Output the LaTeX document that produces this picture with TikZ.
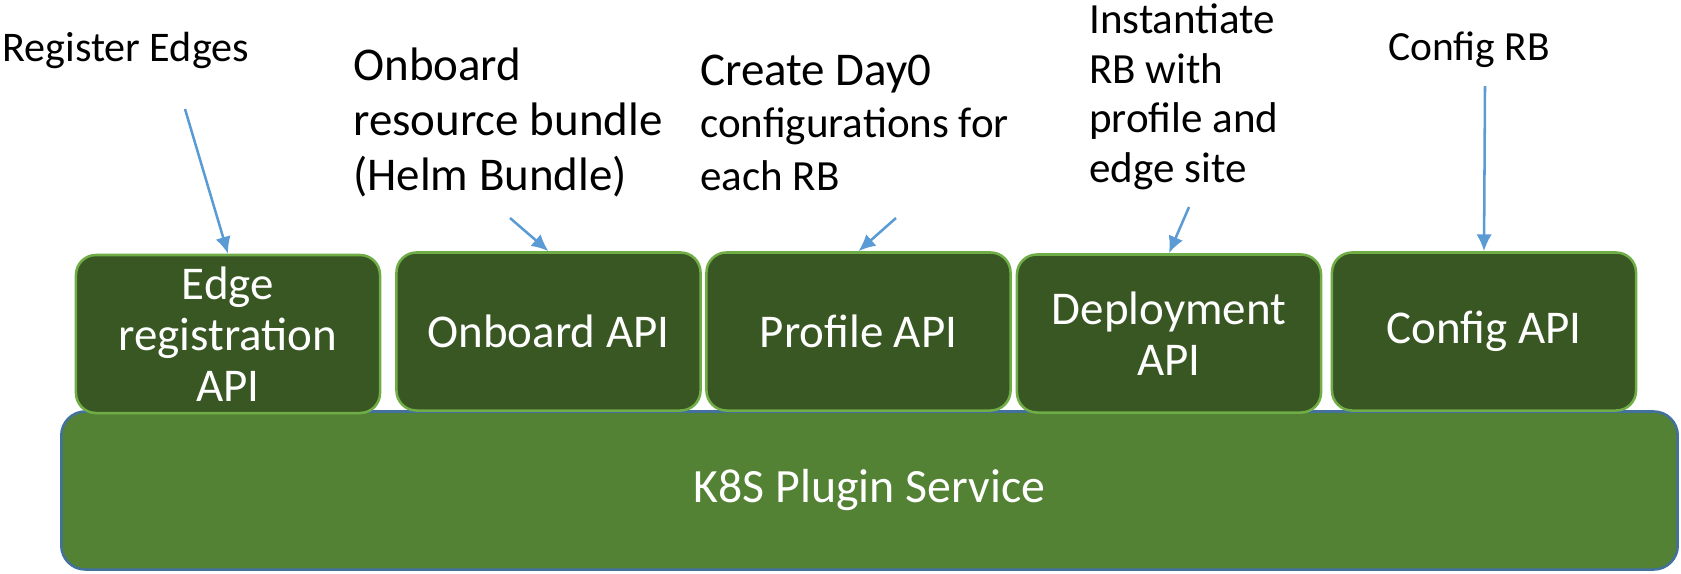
\documentclass[tikz,border=0pt]{standalone}
\usepackage{fontspec}
\setmainfont{Carlito}
\usepackage{tikz}
\usetikzlibrary{arrows.meta,positioning}
\usepackage{xcolor}
\definecolor{apigreen}{HTML}{385723}
\definecolor{apiline}{HTML}{70AD47}
\definecolor{svcgreen}{HTML}{548235}
\definecolor{svcline}{HTML}{41719C}
\definecolor{callblue}{HTML}{5B9BD5}

\tikzset{
  apibox/.style={draw=apiline,fill=apigreen,line width=1.8pt,rounded corners=0.5cm,
    text=white,align=center,inner sep=0pt,minimum width=7.6cm,minimum height=3.95cm,
    font=\fontsize{33.4}{36.3}\selectfont},
  svcbox/.style={draw=svcline,fill=svcgreen,line width=1.8pt,rounded corners=0.6cm,
    text=white,inner sep=0pt,minimum width=40.4cm,minimum height=3.95cm,
    font=\fontsize{34}{40}\selectfont},
  note/.style={anchor=base west,align=left,inner sep=0pt},
  call/.style={->,callblue,line width=1.8pt}
}

\begin{document}
\begin{tikzpicture}[x=0.025cm,y=-0.025cm,>={Latex[length=12pt,width=11pt]}]
\useasboundingbox (0,0) rectangle (1681,573);
% service layer
\node[svcbox] (k8s) at (869.5,490.5) {K8S Plugin Service};
% api boxes
\node[apibox] (edge) at (228,334) {Edge\\registration\\API};
\node[apibox] (onboard) at (548.5,331.5) {Onboard API};
\node[apibox] (profile) at (858.5,331.5) {Profile API};
\node[apibox] (deploy) at (1169,333.5) {Deployment\\API};
\node[apibox] (config) at (1484,331.5) {Config API};
% notes (base = last line)
\node[note,font=\fontsize{30}{36}\selectfont] (regnote) at (2,61) {Register Edges};
\node[note,font=\fontsize{33.4}{39}\selectfont] (onbnote) at (353,190)
  {Onboard\\resource bundle\\(Helm Bundle)};
\node[note,font=\fontsize{30.6}{37}\selectfont] (daynote) at (700,190)
  {{\fontsize{33.4}{37}\selectfont Create Day0}\\configurations for\\each RB};
\node[note,font=\fontsize{30.6}{35.2}\selectfont] (instnote) at (1089,182)
  {Instantiate\\RB with\\profile and\\edge site};
\node[note,font=\fontsize{29.5}{36}\selectfont] (cfgnote) at (1388,60) {Config RB};
% calls
\coordinate (regtail) at (185,109);
\coordinate (onbtail) at (510,218);
\coordinate (daytail) at (896,218);
\coordinate (insttail) at (1189,207);
\coordinate (cfgtail) at (1485,86);
\draw[call] (regtail) -- (edge.north);
\draw[call] (onbtail) -- (onboard.north);
\draw[call] (daytail) -- (profile.north);
\draw[call] (insttail) -- (deploy.north);
\draw[call] (cfgtail) -- (config.north);
\end{tikzpicture}
\end{document}
